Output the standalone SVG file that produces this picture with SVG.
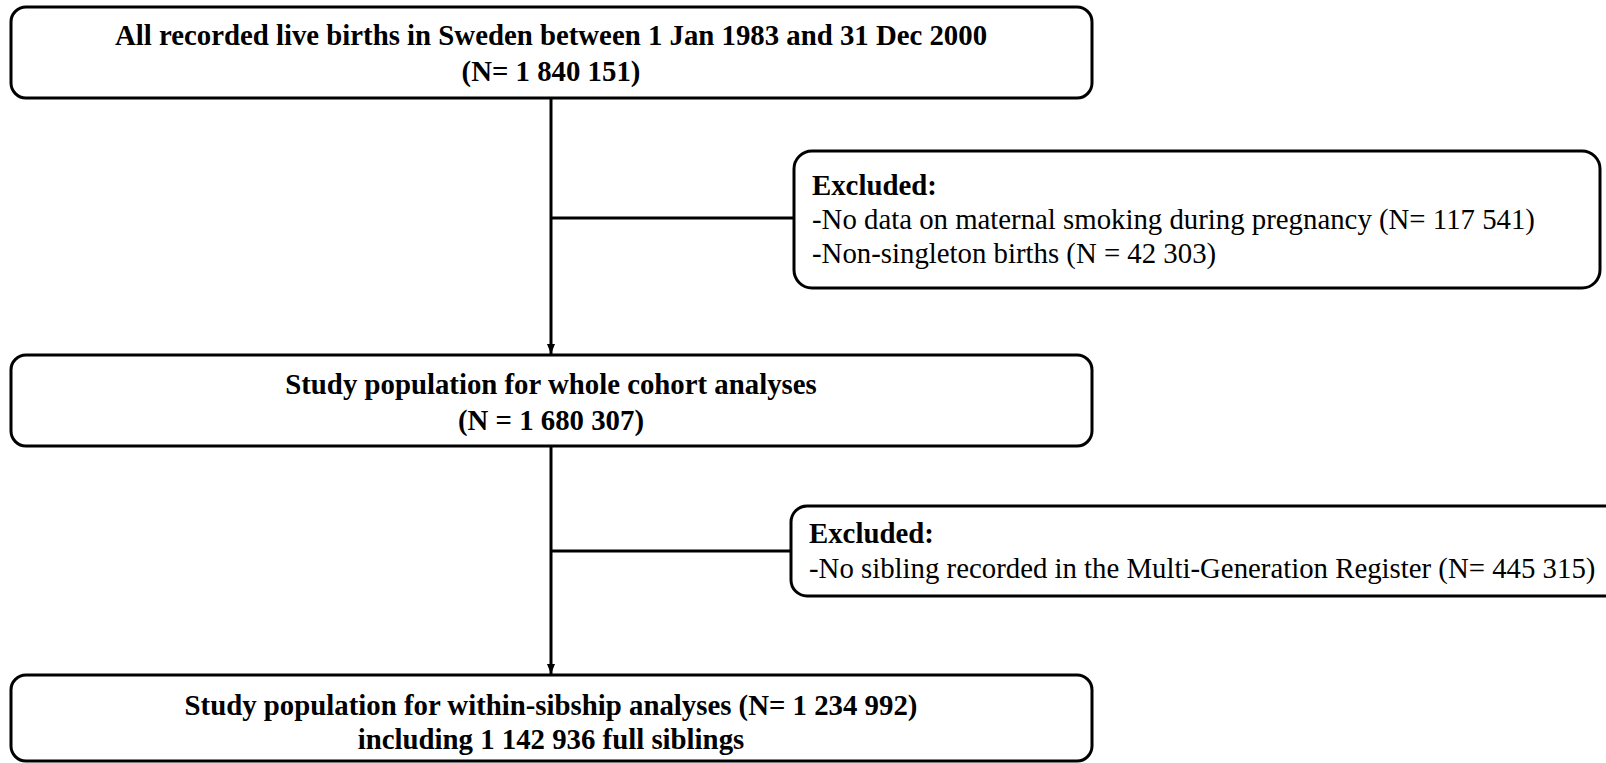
<svg xmlns="http://www.w3.org/2000/svg" width="1606" height="763" viewBox="0 0 1606 763">
<style>
.box{fill:#fff;stroke:#000;stroke-width:3}
.b{font-family:"Liberation Serif","Times New Roman",serif;font-weight:bold;font-size:28.8px;fill:#000;text-anchor:middle}
.r{font-family:"Liberation Serif","Times New Roman",serif;font-size:28.8px;fill:#000}
.rb{font-weight:bold}
.ln{stroke:#000;stroke-width:3;fill:none}
</style>
<defs>
<marker id="ah" viewBox="0 0 10 10" refX="10" refY="5" markerWidth="10" markerHeight="10" markerUnits="userSpaceOnUse" orient="auto">
<path d="M0,1 L10,5 L0,9 Z" fill="#000"/>
</marker>
</defs>
<rect width="1606" height="763" fill="#fff"/>
<g id="connectors">
<line class="ln" x1="551" y1="98" x2="551" y2="354" marker-end="url(#ah)"/>
<line class="ln" x1="551" y1="218" x2="794" y2="218"/>
<line class="ln" x1="551" y1="446" x2="551" y2="674" marker-end="url(#ah)"/>
<line class="ln" x1="551" y1="551" x2="791" y2="551"/>
</g>
<g id="n1">
<rect class="box" x="11" y="7" width="1081" height="91" rx="15"/>
<text class="b" x="551" y="45">All recorded live births in Sweden between 1 Jan 1983 and 31 Dec 2000</text>
<text class="b" x="551" y="81">(N= 1 840 151)</text>
</g>
<g id="ex1">
<rect class="box" x="794" y="151" width="806" height="137" rx="18"/>
<text class="r" x="812" y="195"><tspan class="rb">Excluded:</tspan></text>
<text class="r" x="812" y="229">-No data on maternal smoking during pregnancy (N= 117 541)</text>
<text class="r" x="812" y="263">-Non-singleton births (N = 42 303)</text>
</g>
<g id="n2">
<rect class="box" x="11" y="355" width="1081" height="91" rx="15"/>
<text class="b" x="551" y="394">Study population for whole cohort analyses</text>
<text class="b" x="551" y="430">(N = 1 680 307)</text>
</g>
<g id="ex2">
<rect class="box" x="791" y="506" width="840" height="90" rx="16"/>
<text class="r" x="809" y="543"><tspan class="rb">Excluded:</tspan></text>
<text class="r" x="809" y="578">-No sibling recorded in the Multi-Generation Register (N= 445 315)</text>
</g>
<g id="n3">
<rect class="box" x="11" y="675" width="1081" height="86" rx="15"/>
<text class="b" x="551" y="715">Study population for within-sibship analyses (N= 1 234 992)</text>
<text class="b" x="551" y="749">including 1 142 936 full siblings</text>
</g>
</svg>
